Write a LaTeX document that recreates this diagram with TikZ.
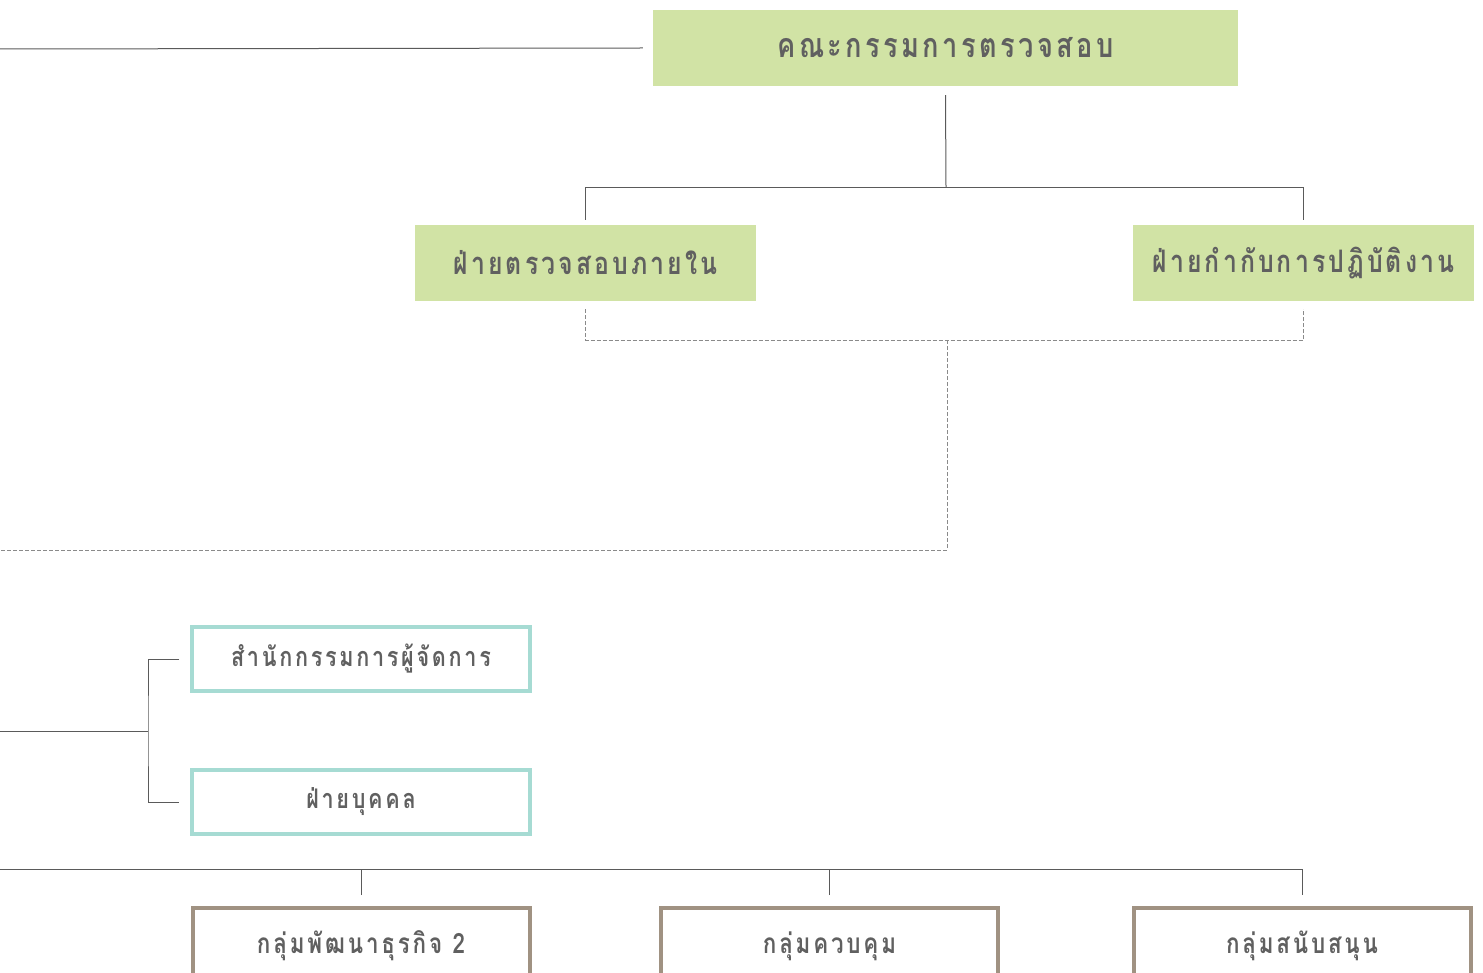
\documentclass[tikz,border=0pt]{standalone}
\usepackage{fontspec}
\newfontfamily\thaifont[Script=Thai,LetterSpace=10,FakeStretch=0.8]{Loma}
\usetikzlibrary{positioning}
\definecolor{boxgreen}{HTML}{D1E3A5}
\definecolor{boxteal}{HTML}{A6DBD3}
\definecolor{boxtaupe}{HTML}{A09282}
\definecolor{linegray}{HTML}{5A5A5A}
\definecolor{dashgray}{HTML}{8A8A8A}
\definecolor{textgray}{HTML}{606060}
\tikzset{
  board/.style={fill=boxgreen, minimum width=341pt, minimum height=76pt, inner sep=0pt,
    text=textgray, font=\thaifont\bfseries\fontsize{31}{36}\selectfont},
  office/.style={draw=boxteal, line width=3.5pt, minimum width=338pt, minimum height=64pt,
    inner sep=0pt, text=textgray, font=\thaifont\bfseries\fontsize{27}{32}\selectfont},
  group/.style={draw=boxtaupe, line width=4pt, minimum width=337pt, minimum height=76pt,
    inner sep=0pt, text=textgray, font=\thaifont\bfseries\fontsize{28}{33}\selectfont},
  link/.style={draw=linegray, line width=1pt},
  dashlink/.style={draw=dashgray, line width=1pt, dash pattern=on 4pt off 2pt}
}
\begin{document}
\begin{tikzpicture}[x=1pt,y=-1pt]
  \useasboundingbox (0,0) rectangle (1483,973);
  \clip (0,0) rectangle (1483,973);
  % boards
  \node[board, minimum width=585pt, font=\thaifont\bfseries\fontsize{34}{40}\selectfont]
    (audit) at (945.5,48) {คณะกรรมการตรวจสอบ};
  \node[board] (internal) at (585.5,263) {ฝ่ายตรวจสอบภายใน};
  \node[board] (compliance) at (1303.5,263) {ฝ่ายกำกับการปฏิบัติงาน};
  % offices
  \node[office] (md) at (361,659) {สำนักกรรมการผู้จัดการ};
  \node[office] (hr) at (361,802) {ฝ่ายบุคคล};
  % groups
  \node[group] (biz) at (361,946) {กลุ่มพัฒนาธุรกิจ 2};
  \node[group] (control) at (829.5,946) {กลุ่มควบคุม};
  \node[group] (support) at (1302,946) {กลุ่มสนับสนุน};
  % free ends at the left edge
  \coordinate (west top) at (0,49);
  \coordinate (west mid) at (0,550);
  \coordinate (west staff) at (0,731);
  \coordinate (west base) at (0,869);
  \path (audit.south) ++(0.5,101) coordinate (split);
  \path (audit.south) ++(1.5,254) coordinate (merge);
  \coordinate (staff) at (148,731);
  % solid connectors
  \draw[link] (west top) -- ([xshift=-10pt]audit.west);
  \draw[link] ([yshift=-9pt]audit.south) -- (split);
  \draw[link] ([yshift=5pt]internal.north) |- (split) -| ([yshift=5pt]compliance.north);
  \draw[link] (west staff) -- (staff);
  \draw[link] ([xshift=-11pt]md.west) -| (staff) |- ([xshift=-11pt]hr.west);
  \draw[link] (west base) -| ([yshift=11pt]support.north);
  \draw[link] ([yshift=11pt]biz.north) -- (biz.north |- west base);
  \draw[link] ([yshift=11pt]control.north) -- (control.north |- west base);
  % dashed connectors
  \draw[dashlink] ([yshift=-8pt]internal.south) |- (merge) -| ([yshift=-8pt]compliance.south);
  \draw[dashlink] (merge) |- (west mid);
\end{tikzpicture}
\end{document}
